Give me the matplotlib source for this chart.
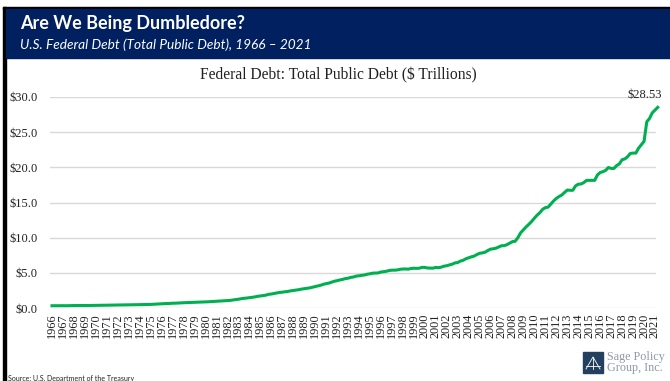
import numpy as np
import matplotlib.pyplot as plt
from matplotlib.patches import Rectangle

# Total public debt, $ trillions, quarterly 1966Q1 - 2021Q2
debt = [
    0.321, 0.316, 0.324, 0.329,   # 1966
    0.330, 0.322, 0.335, 0.345,   # 1967
    0.348, 0.348, 0.358, 0.360,   # 1968
    0.363, 0.353, 0.366, 0.368,   # 1969
    0.372, 0.370, 0.383, 0.389,   # 1970
    0.391, 0.398, 0.410, 0.424,   # 1971
    0.428, 0.427, 0.437, 0.449,   # 1972
    0.457, 0.458, 0.469, 0.469,   # 1973
    0.474, 0.475, 0.485, 0.492,   # 1974
    0.509, 0.533, 0.554, 0.577,   # 1975
    0.600, 0.620, 0.634, 0.653,   # 1976
    0.680, 0.685, 0.709, 0.729,   # 1977
    0.749, 0.763, 0.780, 0.789,   # 1978
    0.796, 0.812, 0.827, 0.845,   # 1979
    0.864, 0.884, 0.908, 0.930,   # 1980
    0.965, 0.977, 0.998, 1.028,   # 1981
    1.061, 1.080, 1.142, 1.197,   # 1982
    1.245, 1.320, 1.377, 1.411,   # 1983
    1.463, 1.518, 1.573, 1.663,   # 1984
    1.710, 1.774, 1.823, 1.945,   # 1985
    1.986, 2.059, 2.125, 2.214,   # 1986
    2.247, 2.310, 2.350, 2.431,   # 1987
    2.487, 2.547, 2.602, 2.684,   # 1988
    2.740, 2.799, 2.857, 2.953,   # 1989
    3.052, 3.143, 3.233, 3.364,   # 1990
    3.465, 3.538, 3.665, 3.801,   # 1991
    3.882, 3.984, 4.065, 4.177,   # 1992
    4.231, 4.352, 4.411, 4.535,   # 1993
    4.576, 4.646, 4.693, 4.801,   # 1994
    4.865, 4.951, 4.974, 4.988,   # 1995
    5.117, 5.161, 5.225, 5.323,   # 1996
    5.381, 5.376, 5.413, 5.502,   # 1997
    5.542, 5.548, 5.526, 5.614,   # 1998
    5.651, 5.638, 5.656, 5.776,   # 1999
    5.773, 5.685, 5.674, 5.662,   # 2000
    5.773, 5.727, 5.807, 5.943,   # 2001
    6.006, 6.126, 6.228, 6.405,   # 2002
    6.460, 6.670, 6.783, 6.998,   # 2003
    7.131, 7.274, 7.379, 7.596,   # 2004
    7.776, 7.836, 7.933, 8.170,   # 2005
    8.371, 8.420, 8.507, 8.680,   # 2006
    8.849, 8.867, 9.008, 9.229,   # 2007
    9.437, 9.492, 10.025, 10.700, # 2008
    11.127, 11.545, 11.910, 12.311,  # 2009
    12.773, 13.202, 13.562, 14.025,  # 2010
    14.270, 14.343, 14.790, 15.223,  # 2011
    15.582, 15.856, 16.066, 16.433,  # 2012
    16.771, 16.738, 16.738, 17.352,  # 2013
    17.601, 17.632, 17.824, 18.141,  # 2014
    18.152, 18.152, 18.151, 18.922,  # 2015
    19.264, 19.381, 19.573, 19.977,  # 2016
    19.846, 19.845, 20.245, 20.493,  # 2017
    21.090, 21.195, 21.516, 21.974,  # 2018
    22.028, 22.023, 22.719, 23.201,  # 2019
    23.688, 26.477, 26.945, 27.748,  # 2020
    28.133, 28.530,                  # 2021
]
quarters = 1966 + np.arange(len(debt)) / 4.0
years = list(range(1966, 2022))
yticks = [0, 5, 10, 15, 20, 25, 30]
last_label = f"${debt[-1]:.2f}"

NAVY = "#002060"
GREEN = "#00B050"
W, H = 670, 381

fig = plt.figure(figsize=(W / 100, H / 100), dpi=100)

# header band with black frame on top / left
fig.patches.append(Rectangle((3 / W, 0), 3 / W, 1 - 7 / H, transform=fig.transFigure,
                             color="black", zorder=0))
fig.patches.append(Rectangle((3 / W, 1 - 9 / H), 1, 2 / H, transform=fig.transFigure,
                             color="black", zorder=0))
fig.patches.append(Rectangle((6 / W, 1 - 58 / H), 1, 49 / H, transform=fig.transFigure,
                             color=NAVY, zorder=0))
fig.text(20 / W, 1 - 24 / H, "Are We Being Dumbledore?", color="white",
         fontsize=13, fontweight="bold", family="Lato", va="center")
fig.text(20 / W, 1 - 45 / H, "U.S. Federal Debt (Total Public Debt), 1966 \u2013 2021",
         color="white", fontsize=9.8, style="italic", family="Lato", va="center")

# plot area: $0 at y=308px, $30 at y=97px
x0, x1 = 50, 656
px_per_year = (655 - 52) / 55
ax = fig.add_axes([x0 / W, (H - 308) / H, (x1 - x0) / W, (308 - 97) / H])
ax.set_xlim(1966 - (52 - x0) / px_per_year, 1966 + (x1 - 52) / px_per_year)
ax.set_ylim(0, 30)

ax.plot(quarters, debt, color=GREEN, lw=2.2, clip_on=False, zorder=3,
        solid_joinstyle="round")
ax.annotate(last_label, (quarters[-1], debt[-1]), xytext=(-9, 9),
            textcoords="offset points", ha="center", va="center",
            fontsize=9, family="Liberation Serif", color="#222222",
            annotation_clip=False)

for s in ax.spines.values():
    s.set_visible(False)
ax.set_yticks(yticks)
ax.set_yticklabels([f"${v:.1f}" for v in yticks], family="Liberation Serif",
                   fontsize=9, color="#222222")
ax.set_xticks(years)
ax.set_xticklabels([str(y) for y in years], rotation=90, family="Liberation Serif",
                   fontsize=8.8, color="#222222")
ax.tick_params(axis="y", length=0, pad=9)
ax.tick_params(axis="x", length=0, pad=4)
ax.grid(axis="y", color="#d9d9d9", lw=1)
ax.set_axisbelow(True)

fig.text(338 / W, 1 - 75 / H, "Federal Debt: Total Public Debt ($ Trillions)",
         ha="center", va="center", fontsize=11.2, family="Liberation Serif",
         color="#222222")

# source line and logo
fig.text(8 / W, 1 - 378 / H, "Source: U.S. Department of the Treasury",
         fontsize=5, family="Lato", color="#222222", va="center")
fig.patches.append(Rectangle((583 / W, 1 - 373 / H), 20 / W, 21 / H,
                             transform=fig.transFigure, color="#23405e", zorder=1))
lx = np.array([586, 593, 600]) / W
ly = 1 - np.array([369, 357, 369]) / H
fig.lines.append(plt.Line2D(lx, ly, transform=fig.transFigure, color="white", lw=0.6))
fig.lines.append(plt.Line2D([593 / W, 593 / W], [1 - 357 / H, 1 - 369 / H],
                            transform=fig.transFigure, color="white", lw=0.6))
fig.lines.append(plt.Line2D([586 / W, 600 / W], [1 - 366 / H, 1 - 366 / H],
                            transform=fig.transFigure, color="white", lw=0.6))
fig.text(607 / W, 1 - 357 / H, "Sage Policy", fontsize=8.7, family="Liberation Serif",
         color="#8a9aa3", va="center")
fig.text(607 / W, 1 - 368 / H, "Group, Inc.", fontsize=8.7, family="Liberation Serif",
         color="#8a9aa3", va="center")

fig.savefig("out.png", dpi=100)
